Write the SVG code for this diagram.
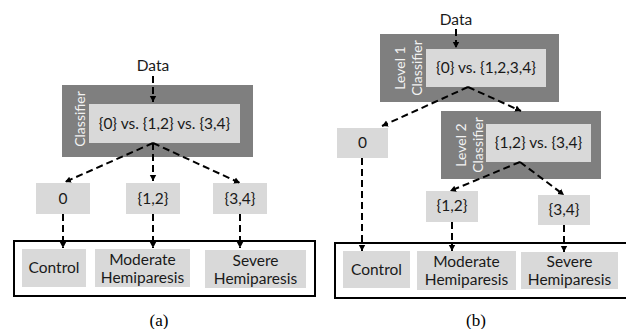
<svg xmlns="http://www.w3.org/2000/svg" width="626" height="329" viewBox="0 0 626 329">
<style>
.t{font-family:"Lato","Liberation Sans",sans-serif;font-size:15.5px;fill:#1a1a1a;text-anchor:middle}
.w{font-family:"Lato","Liberation Sans",sans-serif;font-size:14px;fill:#f2f2f2;text-anchor:middle}
.cap{font-family:"Liberation Serif",serif;font-size:17px;fill:#000;text-anchor:middle}
.dark{fill:#7f7f7f}
.light{fill:#d9d9d9}
.c{stroke:#000;stroke-width:2;stroke-dasharray:7 4;fill:none;marker-end:url(#ah)}
.frame{fill:none;stroke:#000;stroke-width:2}
</style>
<defs>
<marker id="ah" markerUnits="userSpaceOnUse" markerWidth="8" markerHeight="8" refX="6" refY="4" orient="auto">
<path d="M0,0.8 L6,4 L0,7.2 Z" fill="#000"/>
</marker>
</defs>
<!-- Panel (a) -->
<g id="a-data"><text class="t" x="153" y="71">Data</text></g>
<g id="a-classifier">
<rect class="dark" x="62" y="85" width="191" height="72"/>
<rect class="light" x="89" y="104" width="151" height="39"/>
<text class="t" x="164.5" y="129">{0} vs. {1,2} vs. {3,4}</text>
<text class="w" transform="translate(85,119) rotate(-90)">Classifier</text>
</g>
<g id="a-out0"><rect class="light" x="36" y="183" width="54" height="31"/><text class="t" x="63" y="204">0</text></g>
<g id="a-out12"><rect class="light" x="126" y="183" width="54" height="31"/><text class="t" x="153" y="204">{1,2}</text></g>
<g id="a-out34"><rect class="light" x="213" y="183" width="54" height="31"/><text class="t" x="240" y="204">{3,4}</text></g>
<g id="a-classes">
<rect class="frame" x="14" y="241" width="301" height="55"/>
</g>
<g id="a-control"><rect class="light" x="22" y="249" width="64" height="38"/><text class="t" x="54" y="273">Control</text></g>
<g id="a-moderate"><rect class="light" x="95" y="249" width="95" height="38"/><text class="t" x="142.5" y="265">Moderate</text><text class="t" x="142.5" y="283">Hemiparesis</text></g>
<g id="a-severe"><rect class="light" x="205" y="250" width="101" height="38"/><text class="t" x="255.5" y="266">Severe</text><text class="t" x="255.5" y="284">Hemiparesis</text></g>
<text class="cap" x="159" y="326">(a)</text>
<!-- Panel (b) -->
<g id="b-data"><text class="t" x="456" y="25">Data</text></g>
<g id="b-level1">
<rect class="dark" x="380" y="34" width="179" height="68"/>
<rect class="light" x="426" y="49" width="120" height="38"/>
<text class="t" x="486" y="73">{0} vs. {1,2,3,4}</text>
<text class="w" transform="translate(405,68) rotate(-90)">Level 1</text>
<text class="w" transform="translate(422,68) rotate(-90)">Classifier</text>
</g>
<g id="b-out0"><rect class="light" x="337" y="128" width="51" height="30"/><text class="t" x="362.5" y="148">0</text></g>
<g id="b-level2">
<rect class="dark" x="441" y="111" width="160" height="68"/>
<rect class="light" x="486" y="124" width="105" height="38"/>
<text class="t" x="538.5" y="148">{1,2} vs. {3,4}</text>
<text class="w" transform="translate(466,145) rotate(-90)">Level 2</text>
<text class="w" transform="translate(483,145) rotate(-90)">Classifier</text>
</g>
<g id="b-out12"><rect class="light" x="426" y="191" width="52" height="31"/><text class="t" x="452" y="211">{1,2}</text></g>
<g id="b-out34"><rect class="light" x="538" y="195" width="52" height="30"/><text class="t" x="564" y="215">{3,4}</text></g>
<g id="b-classes">
<rect class="frame" x="335" y="243" width="300" height="55"/>
</g>
<g id="b-control"><rect class="light" x="343" y="251" width="67" height="37"/><text class="t" x="376.5" y="275">Control</text></g>
<g id="b-moderate"><rect class="light" x="417" y="251" width="99" height="39"/><text class="t" x="466.5" y="267">Moderate</text><text class="t" x="466.5" y="285">Hemiparesis</text></g>
<g id="b-severe"><rect class="light" x="521" y="252" width="97" height="37"/><text class="t" x="569.5" y="267">Severe</text><text class="t" x="569.5" y="285">Hemiparesis</text></g>
<text class="cap" x="476" y="326">(b)</text>
<!-- Connectors -->
<g id="connectors">
<path class="c" d="M153,76 L153,102"/>
<path class="c" d="M153,143 L65,182"/>
<path class="c" d="M153,143 L153,181"/>
<path class="c" d="M153,143 L240,183"/>
<path class="c" d="M63,214 L63,248"/>
<path class="c" d="M153,214 L153,248"/>
<path class="c" d="M240,214 L240,248"/>
<path class="c" d="M456,29 L456,48"/>
<path class="c" d="M468,87 L382,126"/>
<path class="c" d="M468,87 L521,111"/>
<path class="c" d="M362,158 L362,251"/>
<path class="c" d="M520,162 L450,191"/>
<path class="c" d="M520,162 L564,195"/>
<path class="c" d="M452,222 L452,251"/>
<path class="c" d="M564,225 L564,252"/>
</g>
</svg>
